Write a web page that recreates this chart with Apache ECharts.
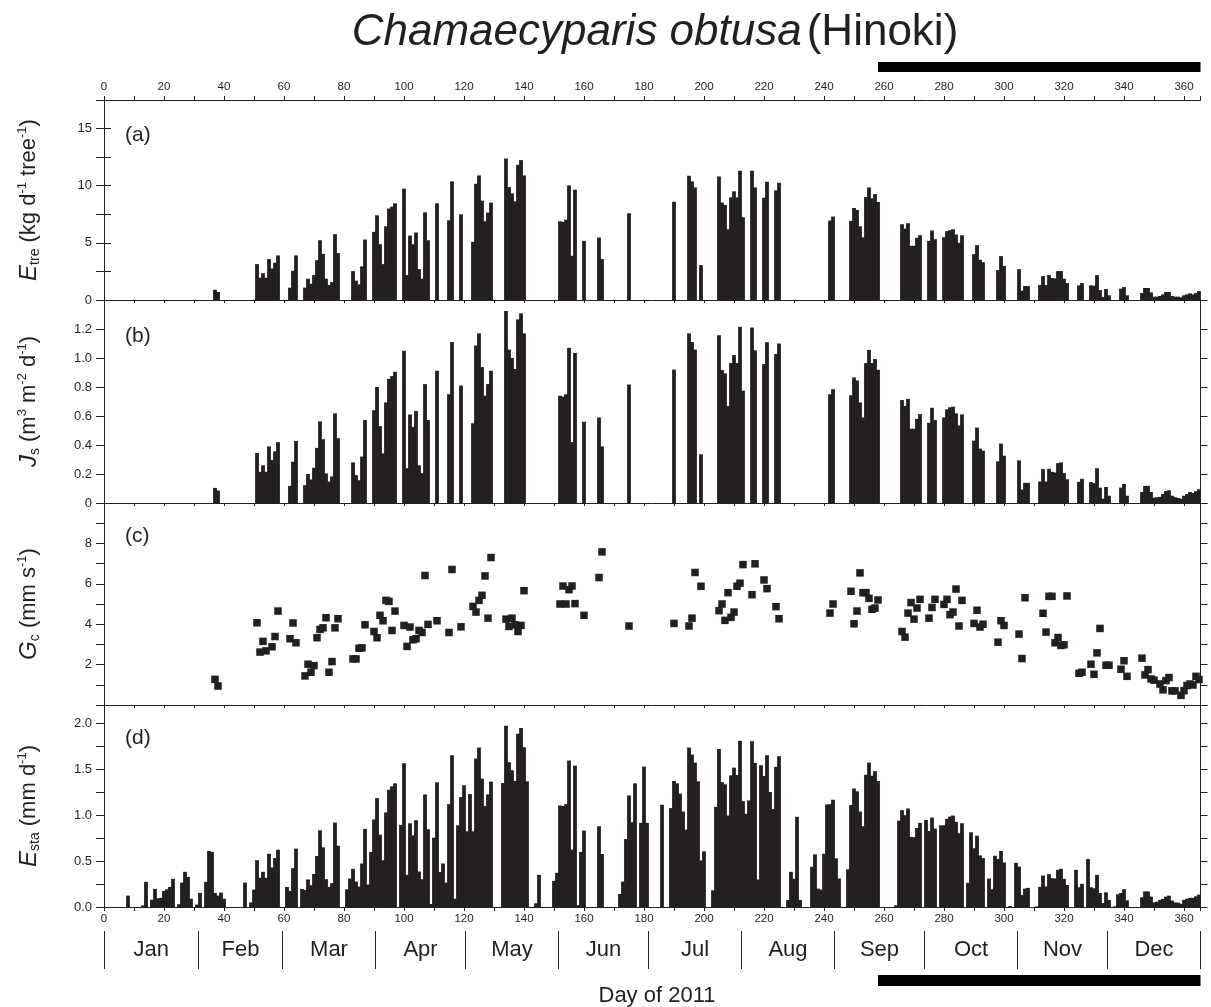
<!DOCTYPE html>
<html><head><meta charset="utf-8">
<script src="https://cdn.jsdelivr.net/npm/echarts/dist/echarts.min.js"></script>
<style>html,body{margin:0;padding:0;background:#fff}#c{width:1211px;height:1007px}</style>
</head><body><div id="c"></div>
<script>
// ---------- DATA ----------
// runs: [first day-of-year, [daily values ...]]
const etreRuns = [
[37,[0.9,0.7]],
[51,[3.14,1.95,2.35,1.95,3.58,2.76,3.26,3.9]],
[62,[1.08,2.56,3.9]],
[67,[1.08,1.86,1.42,2.18,3.49,5.23,4.04,1.86,1.31,1.57,5.76,4.1]],
[83,[2.53,1.69,1.37,2.94,5.29]],
[90,[5.96,7.41,4.88,3.14,6.45,8.0,8.17,8.46]],
[100,[9.74,2.18,5.64,4.88,5.9,2.7,1.86,7.67,5.23]],
[111,[8.46]],
[115,[6.98,10.38]],
[119,[7.5]],
[123,[5.09,10.17,10.9,8.69,6.89,7.65,8.52]],
[134,[12.38,9.88,9.33,8.63,11.83,12.24,10.9]],
[152,[6.89,6.83,7.03,10.03,3.87,9.65]],
[160,[5.17]],
[165,[5.47,3.58]],
[175,[7.59]],
[190,[8.6]],
[195,[10.87,10.38,9.85]],
[199,[3.05]],
[205,[10.81,8.52,8.31,6.19,8.98,9.51,8.98,11.31,7.24]],
[216,[11.31,9.85]],
[220,[8.95,10.35]],
[224,[9.59,10.26]],
[242,[6.95,7.3]],
[249,[6.92,8.05,7.88,6.45,5.49,9.01,9.85,8.9,9.27,8.58]],
[266,[6.63,6.25,6.72,4.74,4.74,5.44,5.67]],
[275,[5.17,6.08,5.32]],
[280,[5.49,6.02,6.1,6.19,5.73,5.0,5.67]],
[290,[4.01,4.8,3.52,3.31]],
[298,[2.62,3.84,2.99]],
[305,[2.7,0.81,1.22,1.22]],
[312,[1.31,2.09,1.31,2.18,1.92,1.89,2.53,2.53,1.86,1.48]],
[325,[1.28,1.48]],
[329,[1.28,1.25,2.18,0.87,0.26,0.96,0.41]],
[339,[0.99,1.13,0.41]],
[346,[0.61,1.05,1.05,0.67,0.29,0.29,0.35,0.49,0.7,0.7,0.35,0.29,0.29,0.23,0.41,0.49,0.58,0.49,0.61,0.78]]
];

const jsRuns = [
[37,[0.104,0.086]],
[51,[0.345,0.215,0.26,0.215,0.39,0.296,0.356,0.42]],
[62,[0.118,0.285,0.428]],
[67,[0.123,0.2,0.162,0.243,0.38,0.5625,0.44,0.204,0.148,0.183,0.618,0.447]],
[83,[0.28,0.192,0.157,0.32,0.572]],
[90,[0.64,0.8,0.53,0.343,0.694,0.856,0.875,0.905]],
[100,[1.05,0.24,0.61,0.525,0.634,0.26,0.206,0.82,0.572]],
[111,[0.912]],
[115,[0.75,1.11]],
[119,[0.81]],
[123,[0.55,1.086,1.17,0.9375,0.74,0.82,0.912]],
[134,[1.324,1.058,1.0,0.924,1.266,1.308,1.17]],
[152,[0.74,0.734,0.75,1.07,0.42,1.035]],
[160,[0.56]],
[165,[0.59,0.39]],
[175,[0.817]],
[190,[0.92]],
[195,[1.17,1.11,1.058]],
[199,[0.336]],
[205,[1.157,0.917,0.894,0.669,0.965,1.02,0.965,1.215,0.775]],
[216,[1.21,1.053]],
[220,[0.958,1.109]],
[224,[1.028,1.1]],
[242,[0.75,0.785]],
[249,[0.743,0.866,0.845,0.694,0.59,0.965,1.056,0.965,0.993,0.919]],
[266,[0.71,0.669,0.718,0.512,0.512,0.58,0.613]],
[275,[0.553,0.657,0.572]],
[280,[0.59,0.646,0.66,0.664,0.618,0.535,0.611]],
[290,[0.43,0.52,0.375,0.361]],
[298,[0.287,0.41,0.326]],
[305,[0.294,0.093,0.139,0.139]],
[312,[0.148,0.234,0.148,0.236,0.215,0.21,0.275,0.28,0.206,0.164]],
[325,[0.146,0.167]],
[329,[0.144,0.137,0.24,0.106,0.03,0.111,0.05]],
[339,[0.106,0.132,0.05]],
[346,[0.076,0.118,0.118,0.076,0.037,0.04,0.042,0.0625,0.083,0.088,0.05,0.04,0.035,0.03,0.05,0.0625,0.076,0.069,0.081,0.095]]
];

const gcPoints = [
[37,1.27],[38,0.94],[51,4.07],[52,2.62],[53,3.15],[54,2.68],[56,2.88],[57,3.39],[58,4.65],
[62,3.28],[63,4.06],[64,3.08],[67,1.44],[68,2.02],[69,1.62],[70,1.95],[71,3.33],[72,3.74],
[73,3.82],[74,4.32],[75,1.62],[76,2.15],[77,3.82],[78,4.27],[83,2.28],[84,2.28],[85,2.81],
[86,2.83],[87,3.97],[90,3.64],[91,3.33],[92,4.44],[93,4.17],[94,5.18],[95,5.13],[96,3.69],
[97,4.65],[100,3.94],[101,2.9],[102,3.86],[103,3.23],[104,3.28],[105,3.69],[106,3.59],
[107,6.41],[108,3.99],[111,4.17],[115,3.59],[116,6.71],[119,3.87],[123,4.88],[124,4.6],
[125,5.18],[126,5.43],[127,6.39],[128,4.3],[129,7.3],[134,4.25],[135,3.89],[136,4.3],
[137,3.97],[138,3.64],[139,3.94],[140,5.66],[152,5.0],[153,5.89],[154,5.0],[155,5.71],
[156,5.89],[157,5.02],[160,4.44],[165,6.31],[166,7.58],[175,3.91],[190,4.04],[195,3.91],
[196,4.3],[197,6.56],[199,5.88],[205,4.67],[206,5.0],[207,4.19],[208,5.56],[209,4.34],
[210,4.6],[211,5.88],[212,6.03],[213,6.95],[216,5.46],[217,6.99],[220,6.19],[221,5.76],
[224,4.87],[225,4.27],[242,4.55],[243,5.0],[249,5.63],[250,4.02],[251,4.65],[252,6.54],
[253,5.56],[254,5.56],[255,5.28],[256,4.74],[257,4.8],[258,5.2],[266,3.64],[267,3.36],
[268,4.55],[269,5.07],[270,4.25],[271,4.8],[272,5.23],[275,4.3],[276,4.83],[277,5.23],
[280,4.98],[281,5.23],[282,4.47],[283,4.6],[284,5.74],[285,3.91],[286,5.18],[290,4.04],
[291,4.69],[292,3.86],[293,4.0],[298,3.11],[299,4.17],[300,3.94],[305,3.51],[306,2.3],
[307,5.31],[313,4.54],[314,3.61],[315,5.38],[316,5.38],[317,3.08],[318,3.34],[319,2.95],
[320,2.98],[321,5.4],[325,1.57],[326,1.62],[329,2.02],[330,1.52],[331,2.58],[332,3.79],
[334,1.97],[335,1.97],[339,1.77],[340,2.19],[341,1.42],[346,2.32],[347,1.49],[348,1.75],
[349,1.29],[350,1.23],[352,1.04],[353,0.75],[354,1.21],[355,1.36],[356,0.7],[357,0.7],
[359,0.48],[360,0.71],[361,0.96],[362,1.04],[363,0.99],[364,1.42],[365,1.26]
];

const estaRuns = [
[8,[0.124]],
[13,[0.018,0.274]],
[16,[0.08,0.197,0.095,0.1,0.175,0.193,0.219,0.307]],
[25,[0.03,0.266,0.383,0.328,0.09]],
[31,[0.026,0.153]],
[34,[0.274,0.61,0.6,0.153,0.124,0.157,0.09]],
[47,[0.266]],
[49,[0.05,0.19,0.51,0.318,0.383,0.318,0.58,0.43,0.533,0.624]],
[61,[0.219,0.175,0.423,0.635]],
[66,[0.197,0.186,0.3,0.237,0.36,0.555,0.836,0.65,0.303,0.219,0.26,0.92,0.668]],
[81,[0.193,0.31,0.416,0.277,0.223,0.474,0.85,0.245,0.6,0.953,1.186,0.788,0.51,1.03,1.277,1.314,1.347]],
[99,[0.894,1.566,0.35,0.912,0.78,0.945,0.387,0.303,1.226,0.847,0.033,0.755,1.358,0.38,0.474,0.266,1.12,1.653,0.09,0.89,1.197,1.325,0.825,1.23,0.825,1.617,1.737,1.397,1.1,1.226,1.365]],
[133,[1.35,1.974,1.577,1.489,1.372,1.887,1.949,1.74,1.369]],
[144,[0.04,0.35]],
[150,[0.285,0.372,1.106,1.1,1.12,1.595,0.624,1.54,0.02,0.6,0.832]],
[165,[0.88,0.577]],
[172,[0.142,0.277,0.74,1.215,0.923,1.347]],
[179,[0.916,1.529,0.916]],
[186,[1.113]],
[189,[1.077,1.372,1.347,1.234,1.04,0.843,1.737,1.66,1.573,1.369,0.507,0.606]],
[203,[0.182,1.09,1.72,1.36,1.336,0.996,1.434,1.518,1.438,1.81,1.153,1.015,1.16,1.806,1.569,0.3,1.544,1.427,1.653,1.252,1.066,1.526,1.642]],
[228,[0.077,0.383,0.307,0.982,0.077]],
[236,[0.438,0.573,0.2,0.19,0.58,1.117,1.12,1.168,0.53,0.31]],
[248,[0.41,1.11,1.29,1.26,1.04,0.88,1.44,1.573,1.43,1.48,1.372]],
[264,[0.018,0.94,1.055,1.0,1.073,0.763,0.76,0.86,0.916]],
[274,[0.949,0.828,0.974,0.854]],
[279,[0.89,0.89,0.96,0.985,0.996,0.927,0.803,0.912]],
[288,[0.263,0.814,0.64,0.777,0.562,0.533]],
[295,[0.31,0.193,0.558,0.522,0.61,0.485]],
[302,[0.01]],
[304,[0.48,0.44,0.13,0.2,0.208]],
[311,[0.007,0.219,0.343,0.223,0.358,0.314,0.31,0.405,0.416,0.307,0.24]],
[324,[0.405,0.215,0.252]],
[328,[0.522,0.215,0.204,0.35,0.153,0.044,0.16,0.077]],
[337,[0.007,0.139,0.153,0.193,0.073]],
[346,[0.106,0.17,0.17,0.113,0.05,0.058,0.077,0.088,0.113,0.124,0.07,0.05,0.047,0.036,0.077,0.09,0.1,0.1,0.117,0.135]]
];

const monthNames = ['Jan','Feb','Mar','Apr','May','Jun','Jul','Aug','Sep','Oct','Nov','Dec'];
const monthBounds = [0,31.5,59.5,90.5,120.5,151.5,181.5,212.5,243.5,273.5,304.5,334.5,365.5];
const darkPeriod = [258, 365.5];
const dayRange = [0, 365.5];

// ---------- BUILD ----------
const INK = '#231f20';
const FONT = '"Liberation Sans", Arial, Helvetica, sans-serif';
function fromRuns(runs){ const out=[]; runs.forEach(([s,vals])=>vals.forEach((v,i)=>out.push([s+i,v]))); return out; }
const near = (v,m)=>Math.abs(v/m-Math.round(v/m))<1e-6;

function xAx(grid,pos,showLabel,tick,margin){
  return {type:'value',gridIndex:grid,position:pos,min:dayRange[0],max:dayRange[1],interval:10,
    axisLine:{show:true,onZero:false,lineStyle:{color:INK,width:1}},
    axisTick:{show:true,inside:false,length:tick,lineStyle:{color:INK,width:1}},
    splitLine:{show:false},
    axisLabel:{show:showLabel,fontSize:11.5,color:INK,fontFamily:FONT,margin:margin||6,
      formatter:v=>(near(v,20)&&v<=360)?String(Math.round(v)):''}};
}
function hiddenX(grid){ return {type:'value',gridIndex:grid,min:dayRange[0],max:dayRange[1],show:false}; }
const richName = {
  i:{fontStyle:'italic',fontSize:24,fontFamily:FONT,color:INK,lineHeight:26},
  sub:{fontSize:14,fontFamily:FONT,color:INK,verticalAlign:'bottom',lineHeight:12},
  sup:{fontSize:13,fontFamily:FONT,color:INK,verticalAlign:'top',lineHeight:14},
  n:{fontSize:22,fontFamily:FONT,color:INK,lineHeight:26}
};
function yLeft(grid,max,interval,labelFn,name){
  return {type:'value',gridIndex:grid,position:'left',min:0,max:max,interval:interval,
    axisLine:{show:true,lineStyle:{color:INK}},
    axisTick:{show:true,inside:false,length:8,lineStyle:{color:INK}},
    splitLine:{show:false},
    axisLabel:{fontSize:13,color:INK,fontFamily:FONT,margin:12,formatter:labelFn},
    name:name,nameLocation:'middle',nameRotate:90,nameGap:62,
    nameTextStyle:{color:INK,fontFamily:FONT,fontSize:22,rich:richName}};
}
function yRight(grid,max,interval){
  return {type:'value',gridIndex:grid,position:'right',min:0,max:max,interval:interval,
    axisLine:{show:true,lineStyle:{color:INK}},
    axisTick:{show:true,inside:false,length:7,lineStyle:{color:INK}},
    splitLine:{show:false},axisLabel:{show:false}};
}
const L = 104, R = 10.5;
const grids = [
  {left:L,right:R,top:100,height:200},
  {left:L,right:R,top:300,height:203},
  {left:L,right:R,top:503,height:202},
  {left:L,right:R,top:705,height:202},
  {left:L,right:R,top:931,height:38},
  {left:L,right:R,top:62,height:10},
  {left:L,right:R,top:975,height:11}
];
const barCommon = {type:'bar',barWidth:3.8,barMaxWidth:4,barMinWidth:3.8,itemStyle:{color:INK,opacity:1},silent:true,animation:false,large:false};
const monthLabels = monthNames.map((m,i)=>[(monthBounds[i]+monthBounds[i+1])/2,0.5,m]);
const panelText = {fontSize:21,fontWeight:'normal',fontFamily:FONT,color:INK};

const option = {
  animation:false,
  backgroundColor:'#fff',
  title:[
    {text:'{i|Chamaecyparis obtusa} {n|(Hinoki)}',left:650,top:6,textAlign:'center',
     textStyle:{fontWeight:'normal',rich:{i:{fontStyle:'italic',fontWeight:'normal',fontSize:44,fontFamily:FONT,color:INK},
                                         n:{fontWeight:'normal',fontSize:44,fontFamily:FONT,color:INK}}}},
    {text:'(a)',left:120,top:120,textStyle:panelText},
    {text:'(b)',left:120,top:321,textStyle:panelText},
    {text:'(c)',left:120,top:521,textStyle:panelText},
    {text:'(d)',left:120,top:723,textStyle:panelText},
    {text:'Day of 2011',left:652,top:980,textAlign:'center',textStyle:{fontSize:22,fontWeight:'normal',fontFamily:FONT,color:INK}}
  ],
  grid:grids,
  xAxis:[
    xAx(0,'bottom',false,3),
    xAx(0,'top',true,4,7),
    xAx(1,'bottom',false,3),
    xAx(2,'bottom',false,3),
    xAx(3,'bottom',true,4,6),
    hiddenX(4),hiddenX(5),hiddenX(6)
  ],
  yAxis:[
    yLeft(0,17.5,2.5,v=>(near(v,5)&&v<=15)?String(Math.round(v)):'','{i|E}{sub|tre}{n| (kg d}{sup|-1}{n| tree}{sup|-1}{n|)}'),
    yRight(0,17.5,2.5),
    yLeft(1,1.4,0.2,v=>v>1.25?'':(v<1e-9?'0':v.toFixed(1)),'{i|J}{sub|s}{n| (m}{sup|3}{n| m}{sup|-2}{n| d}{sup|-1}{n|)}'),
    yRight(1,1.4,0.2),
    yLeft(2,10,1,v=>(near(v,2)&&v>0&&v<9.5)?String(Math.round(v)):'','{i|G}{sub|c}{n| (mm s}{sup|-1}{n|)}'),
    yRight(2,10,1),
    yLeft(3,2.2,0.25,v=>(near(v,0.5)&&v<=2.01)?v.toFixed(1):'','{i|E}{sub|sta}{n| (mm d}{sup|-1}{n|)}'),
    yRight(3,2.2,0.25),
    {type:'value',gridIndex:4,min:0,max:1,show:false},
    {type:'value',gridIndex:5,min:0,max:1,show:false},
    {type:'value',gridIndex:6,min:0,max:1,show:false}
  ],
  series:[
    Object.assign({},barCommon,{xAxisIndex:0,yAxisIndex:0,data:fromRuns(etreRuns)}),
    Object.assign({},barCommon,{xAxisIndex:2,yAxisIndex:2,data:fromRuns(jsRuns)}),
    {type:'scatter',xAxisIndex:3,yAxisIndex:4,symbol:'rect',symbolSize:7.5,itemStyle:{color:INK,opacity:1},silent:true,data:gcPoints},
    Object.assign({},barCommon,{xAxisIndex:4,yAxisIndex:6,data:fromRuns(estaRuns)}),
    {type:'scatter',xAxisIndex:5,yAxisIndex:8,symbolSize:0,silent:true,data:monthLabels,itemStyle:{opacity:1},
     label:{show:true,position:'inside',formatter:p=>p.data[2],fontSize:22,fontFamily:FONT,color:INK,opacity:1,textBorderWidth:0},
     markLine:{silent:true,symbol:['none','none'],label:{show:false},animation:false,
       lineStyle:{color:INK,type:'solid',width:1,opacity:1},data:monthBounds.map(b=>({xAxis:b}))}},
    {type:'line',xAxisIndex:6,yAxisIndex:9,symbol:'none',silent:true,lineStyle:{color:'#000',width:10,cap:'butt'},
     data:[[darkPeriod[0],0.5],[darkPeriod[1],0.5]]},
    {type:'line',xAxisIndex:7,yAxisIndex:10,symbol:'none',silent:true,lineStyle:{color:'#000',width:11,cap:'butt'},
     data:[[darkPeriod[0],0.5],[darkPeriod[1],0.5]]}
  ]
};
const chart = echarts.init(document.getElementById('c'),null,{renderer:'canvas'});
chart.setOption(option);
</script>
</body></html>
